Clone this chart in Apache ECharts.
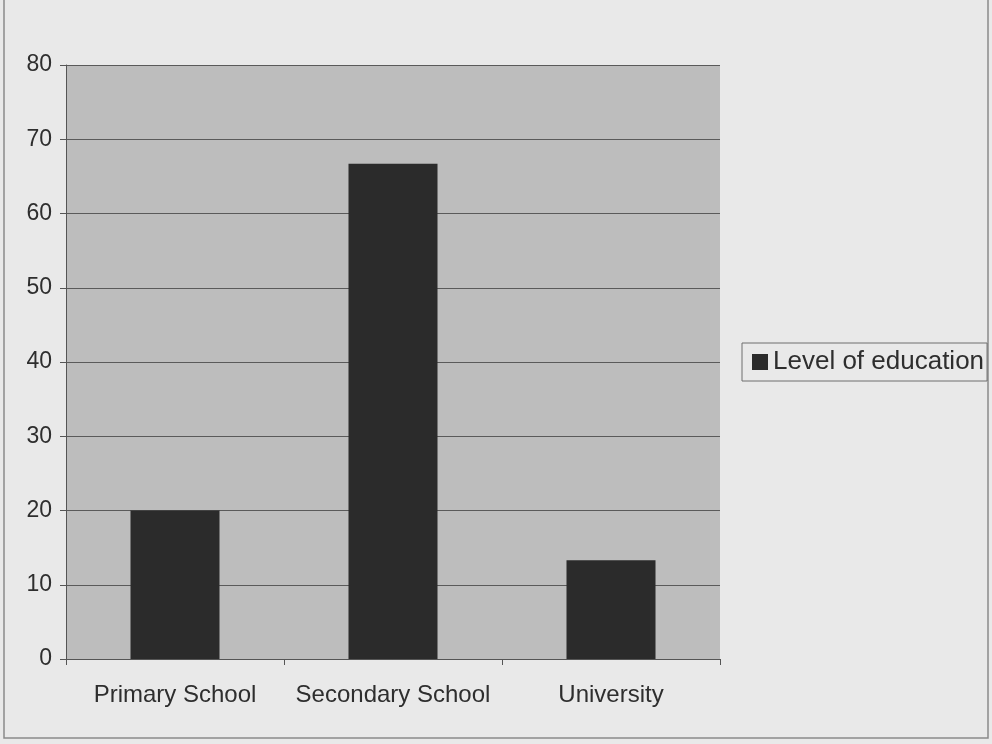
<!DOCTYPE html>
<html><head><meta charset="utf-8">
<script src="https://cdn.jsdelivr.net/npm/echarts@6/dist/echarts.min.js"></script>
<style>html,body{margin:0;padding:0;background:#e9e9e9;}#c{width:992px;height:744px;}</style>
</head><body><div id="c"></div>
<script>
const categories = ['Primary School', 'Secondary School', 'University'];
const seriesName = 'Level of education';
const values = [20, 66.7, 13.3];
const yTicks = [0, 10, 20, 30, 40, 50, 60, 70, 80];

const chart = echarts.init(document.getElementById('c'));
chart.setOption({
  backgroundColor: '#e9e9e9',
  animation: false,
  textStyle: { fontFamily: 'Liberation Sans, Arial, sans-serif' },
  graphic: [{
    type: 'rect', shape: { x: 4, y: -2, width: 984, height: 740 },
    style: { fill: 'none', stroke: '#8a8a8a', lineWidth: 1.5 }, silent: true, z: -1
  }],
  grid: { left: 66, right: 272, top: 65, bottom: 85, backgroundColor: '#bdbdbd', show: true, borderWidth: 0 },
  legend: {
    data: [seriesName], orient: 'vertical', left: 742, top: 343,
    itemWidth: 16, itemHeight: 16, itemGap: 6,
    padding: [6, 3, 6, 10], borderColor: '#6e6e6e', borderWidth: 1,
    textStyle: { fontSize: 26, color: '#2e2e2e', fontFamily: 'Liberation Sans, Arial, sans-serif' },
    icon: 'rect'
  },
  xAxis: {
    type: 'category', data: categories,
    axisLine: { lineStyle: { color: '#555', width: 1 } },
    axisTick: { show: true, interval: 0, length: 6, lineStyle: { color: '#555' } },
    axisLabel: { interval: 0, hideOverlap: false, fontSize: 24, color: '#2e2e2e', margin: 24 }
  },
  yAxis: {
    type: 'value', min: 0, max: 80, interval: 10,
    axisLine: { show: true, lineStyle: { color: '#555' } },
    axisTick: { show: true, length: 6, lineStyle: { color: '#555' } },
    axisLabel: { fontSize: 23, color: '#2e2e2e', margin: 14,
      formatter: v => yTicks.includes(v) ? String(v) : '' },
    splitLine: { lineStyle: { color: '#5a5a5a', width: 1 } }
  },
  series: [{
    name: seriesName, type: 'bar', data: values,
    barWidth: 89,
    itemStyle: { color: '#2b2b2b' }
  }]
});
</script></body></html>
